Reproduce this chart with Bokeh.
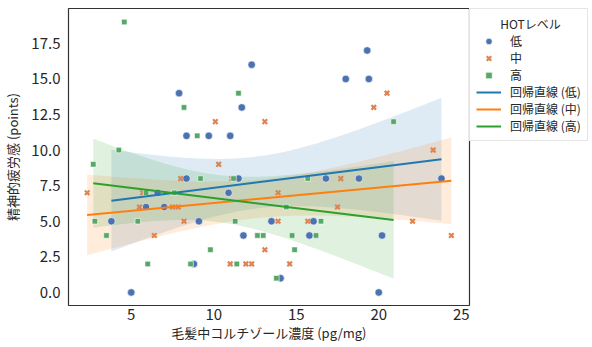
import numpy as np
from bokeh.plotting import figure
from bokeh.models import Legend, LegendItem, Range1d, ColumnDataSource
from bokeh.embed import file_html
from bokeh.resources import INLINE

# ---- data ----
low_x = [5.0, 7.9, 12.3, 11.7, 8.35, 9.7, 11.0, 19.3, 18.0, 19.4, 8.35, 11.5, 6.6, 10.9, 5.9,
         7.0, 3.8, 9.1, 13.5, 16.05, 11.8, 8.8, 16.8, 18.8, 23.8, 15.8, 20.2, 14.05, 20.0]
low_y = [0, 14, 16, 13, 11, 11, 11, 17, 15, 15, 8, 8, 7, 7, 6,
         6, 5, 5, 5, 5, 4, 2, 8, 8, 8, 4, 4, 1, 0]
mid_x = [10.1, 13.1, 20.5, 19.7, 23.3, 10.3, 2.33, 8.0, 11.1, 5.7, 13.9, 5.5, 7.5, 7.85,
         8.2, 13.9, 6.4, 13.1, 11.0, 11.95, 12.3, 17.7, 17.5, 15.7, 22.05, 24.4, 14.6]
mid_y = [12, 12, 14, 13, 10, 9, 7, 8, 8, 7, 7, 6, 6, 6,
         5, 5, 4, 3, 2, 2, 2, 8, 6, 5, 5, 4, 2]
high_x = [4.58, 11.5, 8.2, 9.0, 4.25, 20.9, 2.7, 9.2, 11.2, 5.9, 7.6, 2.8, 5.4, 11.3,
          3.5, 12.65, 13.0, 9.8, 6.0, 8.6, 11.4, 13.8, 15.7, 14.4, 16.5, 14.75, 16.2, 14.9]
high_y = [19, 14, 13, 11, 10, 12, 9, 8, 8, 7, 7, 5, 5, 5,
          4, 4, 4, 3, 2, 2, 2, 1, 8, 6, 5, 4, 4, 3]

levels = ["低", "中", "高"]
legend_title = "HOTレベル"
x_label = "毛髪中コルチゾール濃度 (pg/mg)"
y_label = "精神的疲労感 (points)"
x_ticks = [5, 10, 15, 20, 25]
y_ticks = [0.0, 2.5, 5.0, 7.5, 10.0, 12.5, 15.0, 17.5]

point_colors = ["#4C72B0", "#DD8452", "#55A868"]
line_colors = ["#1f77b4", "#ff7f0e", "#2ca02c"]
markers = ["circle", "x", "square"]
sizes = [7.5, 6.5, 5.5]

FONT = "Noto Sans CJK JP"
TXT = "#262626"

p = figure(frame_width=401, frame_height=297, output_backend="svg", toolbar_location=None,
           x_range=Range1d(1.2, 25.5), y_range=Range1d(-0.92, 19.95),
           min_border_left=63, min_border_right=0, min_border_top=8, min_border_bottom=0)
p.grid.visible = False
p.outline_line_color = "#333333"
p.outline_line_width = 1.2
p.background_fill_color = "white"
p.border_fill_color = "white"

for ax in (p.xaxis[0], p.yaxis[0]):
    ax.axis_line_color = None
    ax.major_tick_line_color = None
    ax.minor_tick_line_color = None
    ax.major_tick_out = 0
    ax.major_tick_in = 0
    ax.minor_tick_out = 0
    ax.minor_tick_in = 0
    ax.major_label_text_font = FONT
    ax.major_label_text_font_size = "15px"
    ax.major_label_text_color = TXT
    ax.axis_label_text_font = FONT
    ax.axis_label_text_font_size = "13px"
    ax.axis_label_text_font_style = "normal"
    ax.axis_label_text_color = TXT

p.xaxis.ticker = x_ticks
p.yaxis.ticker = y_ticks
p.yaxis.major_label_overrides = {v: f"{v:.1f}" for v in y_ticks}
p.xaxis.axis_label = x_label
p.yaxis.axis_label = y_label
p.xaxis.major_label_standoff = 3
p.yaxis.major_label_standoff = 8
p.xaxis.axis_label_standoff = 0
p.yaxis.axis_label_standoff = 6

groups = [(low_x, low_y), (mid_x, mid_y), (high_x, high_y)]
scatter_r = []
line_r = []
T_CRIT = 2.05
for i, (gx, gy) in enumerate(groups):
    xa = np.array(gx, dtype=float)
    ya = np.array(gy, dtype=float)
    n = len(xa)
    b, a = np.polyfit(xa, ya, 1)
    xs = np.linspace(xa.min(), xa.max(), 100)
    yh = a + b * xs
    resid = ya - (a + b * xa)
    s = np.sqrt(np.sum(resid ** 2) / (n - 2))
    sxx = np.sum((xa - xa.mean()) ** 2)
    half = T_CRIT * s * np.sqrt(1.0 / n + (xs - xa.mean()) ** 2 / sxx)
    p.varea(x=xs, y1=yh - half, y2=yh + half, fill_color=line_colors[i], fill_alpha=0.15)

for i, (gx, gy) in enumerate(groups):
    src = ColumnDataSource(dict(x=gx, y=gy))
    if markers[i] == "x":
        r = p.scatter("x", "y", source=src, marker="x", size=sizes[i],
                      line_color=point_colors[i], line_width=2.2)
    else:
        r = p.scatter("x", "y", source=src, marker=markers[i], size=sizes[i],
                      fill_color=point_colors[i], line_color="white", line_width=0.6)
    scatter_r.append(r)

for i, (gx, gy) in enumerate(groups):
    xa = np.array(gx, dtype=float)
    ya = np.array(gy, dtype=float)
    b, a = np.polyfit(xa, ya, 1)
    xs = np.array([xa.min(), xa.max()])
    r = p.line(xs, a + b * xs, line_color=line_colors[i], line_width=2)
    line_r.append(r)

items = [LegendItem(label=levels[i], renderers=[scatter_r[i]]) for i in range(3)]
items += [LegendItem(label=f"回帰直線 ({levels[i]})", renderers=[line_r[i]]) for i in range(3)]
legend = Legend(items=items, location="top_left",
                title="\u00a0" * 9 + legend_title,
                title_text_font=FONT, title_text_font_size="12px", title_text_font_style="normal",
                title_text_color=TXT, title_standoff=0,
                label_text_font=FONT, label_text_font_size="12px", label_text_color=TXT,
                label_height=16, glyph_height=16, glyph_width=25, spacing=0,
                padding=6, margin=0, border_line_color="#cccccc", border_line_width=1,
                background_fill_alpha=1.0, label_standoff=9)
p.add_layout(legend, "right")

open("out.html", "w").write(file_html(p, INLINE))
